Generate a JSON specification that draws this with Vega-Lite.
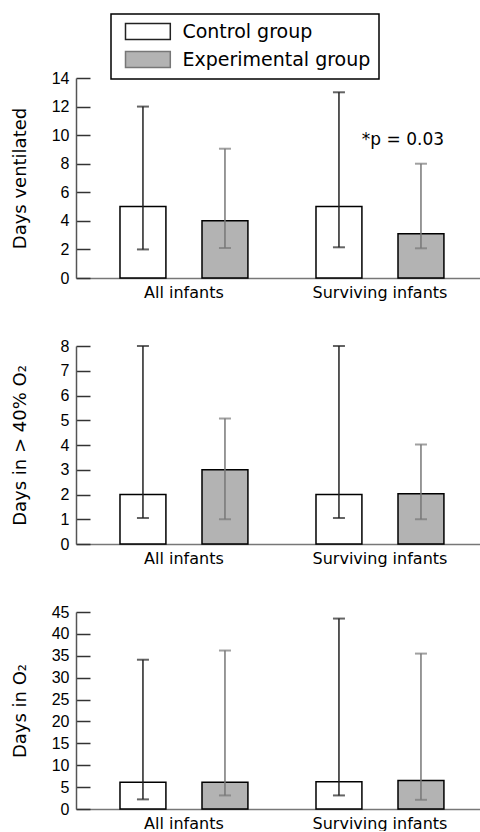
{
  "$schema": "https://vega.github.io/schema/vega-lite/v6.json",
  "padding": {"top": 13, "left": 10, "right": 0, "bottom": 0},
  "bounds": "flush",
  "spacing": 68,
  "background": "white",
  "datasets": {
    "p1": [
      {"cat": "All infants", "grp": "Control group", "median": 5, "lo": 2, "hi": 12},
      {"cat": "All infants", "grp": "Experimental group", "median": 4, "lo": 2.1, "hi": 9.05},
      {"cat": "Surviving infants", "grp": "Control group", "median": 5, "lo": 2.15, "hi": 13},
      {"cat": "Surviving infants", "grp": "Experimental group", "median": 3.1, "lo": 2.08, "hi": 8}
    ],
    "p2": [
      {"cat": "All infants", "grp": "Control group", "median": 2, "lo": 1.05, "hi": 8},
      {"cat": "All infants", "grp": "Experimental group", "median": 3, "lo": 1, "hi": 5.07},
      {"cat": "Surviving infants", "grp": "Control group", "median": 2, "lo": 1.05, "hi": 8},
      {"cat": "Surviving infants", "grp": "Experimental group", "median": 2.03, "lo": 1, "hi": 4.02}
    ],
    "p3": [
      {"cat": "All infants", "grp": "Control group", "median": 6.1, "lo": 2.2, "hi": 34.1},
      {"cat": "All infants", "grp": "Experimental group", "median": 6.1, "lo": 3.1, "hi": 36.2},
      {"cat": "Surviving infants", "grp": "Control group", "median": 6.2, "lo": 3.1, "hi": 43.5},
      {"cat": "Surviving infants", "grp": "Experimental group", "median": 6.5, "lo": 2.1, "hi": 35.5}
    ],
    "note": [
      {"cat": "Surviving infants", "grp": "Experimental group", "label": "*p = 0.03", "yv": 9.66}
    ]
  },
  "resolve": {
    "scale": {"x": "independent", "y": "independent", "fill": "shared", "color": "shared"},
    "legend": {"fill": "independent", "color": "independent"}
  },
  "vconcat": [
    {
      "width": 404, "height": 200,
      "data": {"name": "p1"},
      "encoding": {
        "x": {"field": "cat", "type": "nominal", "sort": null, "title": null,
              "scale": {"paddingInner": 0, "paddingOuter": 0.0306, "align": 0.83}},
        "xOffset": {"field": "grp", "type": "nominal", "sort": null,
              "scale": {"paddingInner": 0.44, "paddingOuter": 0.415}}
      },
      "layer": [
        {
          "mark": {"type": "bar", "stroke": "black", "strokeWidth": 1.5},
          "encoding": {
            "y": {"field": "median", "type": "quantitative", "scale": {"domain": [0, 14]},
                  "axis": {"values": [0, 2, 4, 6, 8, 10, 12, 14], "title": "Days ventilated"}},
            "fill": {"field": "grp", "type": "nominal", "sort": null,
                     "scale": {"domain": ["Control group", "Experimental group"], "range": ["#ffffff", "#b3b3b3"]},
                     "legend": {"orient": "none", "legendX": 35, "legendY": -64, "title": null,
                                "direction": "vertical",
                                "symbolType": "M-2.8,-1H2.8V1H-2.8Z", "symbolSize": 256,
                                "symbolOffset": 19.4,
                                "symbolStrokeColor": "black", "symbolOpacity": 1,
                                "labelFont": "DejaVu Sans", "labelFontSize": 19, "labelColor": "black",
                                "labelOffset": 25, "labelLimit": 400, "rowPadding": 5, "padding": 8,
                                "strokeColor": "black", "fillColor": "white"}}
          }
        },
        {
          "mark": {"type": "rule", "strokeWidth": 1.5},
          "encoding": {
            "y": {"field": "lo", "type": "quantitative",
                  "axis": {"values": [0, 2, 4, 6, 8, 10, 12, 14], "title": "Days ventilated"}},
            "y2": {"field": "hi"},
            "color": {"field": "grp", "type": "nominal", "sort": null,
                      "scale": {"domain": ["Control group", "Experimental group"], "range": ["#222222", "#777777"]},
                      "legend": null}
          }
        },
        {
          "mark": {"type": "tick", "size": 12, "thickness": 2},
          "encoding": {
            "y": {"field": "hi", "type": "quantitative",
                  "axis": {"values": [0, 2, 4, 6, 8, 10, 12, 14], "title": "Days ventilated"}},
            "color": {"field": "grp", "type": "nominal", "sort": null, "legend": null}
          }
        },
        {
          "mark": {"type": "tick", "size": 12, "thickness": 2},
          "encoding": {
            "y": {"field": "lo", "type": "quantitative",
                  "axis": {"values": [0, 2, 4, 6, 8, 10, 12, 14], "title": "Days ventilated"}},
            "color": {"field": "grp", "type": "nominal", "sort": null, "legend": null}
          }
        },
        {
          "data": {"name": "note"},
          "mark": {"type": "text", "font": "DejaVu Sans", "fontSize": 17, "color": "black", "dx": -18, "baseline": "middle"},
          "encoding": {
            "y": {"field": "yv", "type": "quantitative",
                  "axis": {"values": [0, 2, 4, 6, 8, 10, 12, 14], "title": "Days ventilated"}},
            "text": {"field": "label"}
          }
        }
      ]
    },
    {
      "width": 404, "height": 198,
      "data": {"name": "p2"},
      "encoding": {
        "x": {"field": "cat", "type": "nominal", "sort": null, "title": null,
              "scale": {"paddingInner": 0, "paddingOuter": 0.0306, "align": 0.83}},
        "xOffset": {"field": "grp", "type": "nominal", "sort": null,
              "scale": {"paddingInner": 0.44, "paddingOuter": 0.415}}
      },
      "layer": [
        {
          "mark": {"type": "bar", "stroke": "black", "strokeWidth": 1.5},
          "encoding": {
            "y": {"field": "median", "type": "quantitative", "scale": {"domain": [0, 8]},
                  "axis": {"values": [0, 1, 2, 3, 4, 5, 6, 7, 8], "title": "Days in > 40% O₂"}},
            "fill": {"field": "grp", "type": "nominal", "sort": null, "legend": null}
          }
        },
        {
          "mark": {"type": "rule", "strokeWidth": 1.5},
          "encoding": {
            "y": {"field": "lo", "type": "quantitative",
                  "axis": {"values": [0, 1, 2, 3, 4, 5, 6, 7, 8], "title": "Days in > 40% O₂"}},
            "y2": {"field": "hi"},
            "color": {"field": "grp", "type": "nominal", "sort": null, "legend": null}
          }
        },
        {
          "mark": {"type": "tick", "size": 12, "thickness": 2},
          "encoding": {
            "y": {"field": "hi", "type": "quantitative",
                  "axis": {"values": [0, 1, 2, 3, 4, 5, 6, 7, 8], "title": "Days in > 40% O₂"}},
            "color": {"field": "grp", "type": "nominal", "sort": null, "legend": null}
          }
        },
        {
          "mark": {"type": "tick", "size": 12, "thickness": 2},
          "encoding": {
            "y": {"field": "lo", "type": "quantitative",
                  "axis": {"values": [0, 1, 2, 3, 4, 5, 6, 7, 8], "title": "Days in > 40% O₂"}},
            "color": {"field": "grp", "type": "nominal", "sort": null, "legend": null}
          }
        }
      ]
    },
    {
      "width": 404, "height": 197,
      "data": {"name": "p3"},
      "encoding": {
        "x": {"field": "cat", "type": "nominal", "sort": null, "title": null,
              "scale": {"paddingInner": 0, "paddingOuter": 0.0306, "align": 0.83}},
        "xOffset": {"field": "grp", "type": "nominal", "sort": null,
              "scale": {"paddingInner": 0.44, "paddingOuter": 0.415}}
      },
      "layer": [
        {
          "mark": {"type": "bar", "stroke": "black", "strokeWidth": 1.5},
          "encoding": {
            "y": {"field": "median", "type": "quantitative", "scale": {"domain": [0, 45]},
                  "axis": {"values": [0, 5, 10, 15, 20, 25, 30, 35, 40, 45], "title": "Days in O₂"}},
            "fill": {"field": "grp", "type": "nominal", "sort": null, "legend": null}
          }
        },
        {
          "mark": {"type": "rule", "strokeWidth": 1.5},
          "encoding": {
            "y": {"field": "lo", "type": "quantitative",
                  "axis": {"values": [0, 5, 10, 15, 20, 25, 30, 35, 40, 45], "title": "Days in O₂"}},
            "y2": {"field": "hi"},
            "color": {"field": "grp", "type": "nominal", "sort": null, "legend": null}
          }
        },
        {
          "mark": {"type": "tick", "size": 12, "thickness": 2},
          "encoding": {
            "y": {"field": "hi", "type": "quantitative",
                  "axis": {"values": [0, 5, 10, 15, 20, 25, 30, 35, 40, 45], "title": "Days in O₂"}},
            "color": {"field": "grp", "type": "nominal", "sort": null, "legend": null}
          }
        },
        {
          "mark": {"type": "tick", "size": 12, "thickness": 2},
          "encoding": {
            "y": {"field": "lo", "type": "quantitative",
                  "axis": {"values": [0, 5, 10, 15, 20, 25, 30, 35, 40, 45], "title": "Days in O₂"}},
            "color": {"field": "grp", "type": "nominal", "sort": null, "legend": null}
          }
        }
      ]
    }
  ],
  "config": {
    "view": {"stroke": null},
    "legend": {"strokeWidth": 1.5},
    "axisX": {"labelAngle": 0, "ticks": false, "domainColor": "#777777", "domainWidth": 1.5,
              "labelFont": "DejaVu Sans", "labelFontSize": 16, "labelColor": "black", "labelPadding": 6, "grid": false},
    "axisY": {"domainColor": "#555555", "domainWidth": 1.5, "tickColor": "#333333", "tickSize": -14, "tickWidth": 1.5,
              "labelFont": "Liberation Sans", "labelFontSize": 16, "labelColor": "black", "labelPadding": 21,
              "labelOverlap": false,
              "titleFont": "DejaVu Sans", "titleFontSize": 18, "titleFontWeight": "normal", "titleColor": "black",
              "titleX": -47, "grid": false}
  }
}
